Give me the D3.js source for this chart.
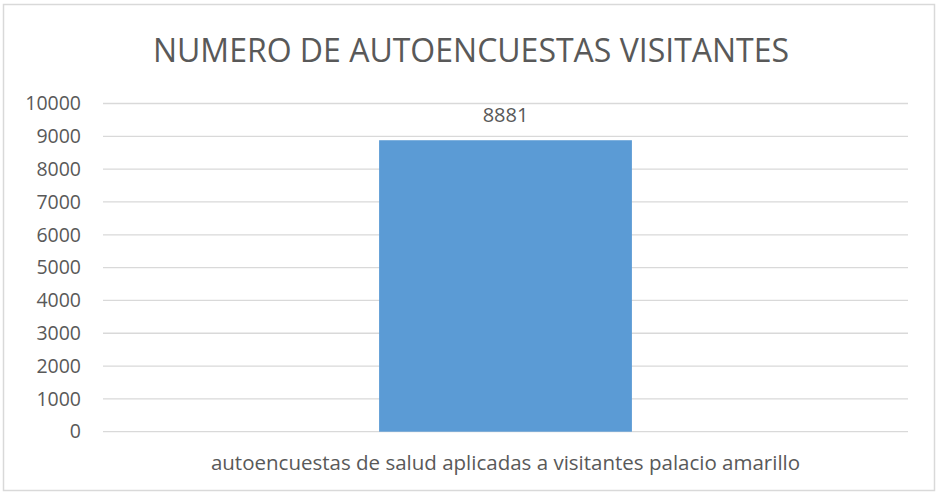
<!DOCTYPE html>
<html>
<head>
<meta charset="utf-8">
<script src="https://cdn.jsdelivr.net/npm/d3@7"></script>
<style>
  html, body { margin: 0; padding: 0; background: white; }
  svg { display: block; font-family: "Open Sans", "Liberation Sans", sans-serif; }
</style>
</head>
<body>
<svg class="chart" width="938" height="493"></svg>
<script>
const categories = ["autoencuestas de salud aplicadas a visitantes palacio amarillo"];
const values = [8881];
const yTicks = [0, 1000, 2000, 3000, 4000, 5000, 6000, 7000, 8000, 9000, 10000];
const title = "NUMERO DE AUTOENCUESTAS VISITANTES";

const textColor = "#595959";
const gridColor = "#d9d9d9";
const barColor = "#5b9bd5";

const svg = d3.select("svg.chart");

// outer frame
svg.append("rect")
  .attr("x", 3.5).attr("y", 4.5)
  .attr("width", 931).attr("height", 486)
  .attr("fill", "white")
  .attr("stroke", gridColor)
  .attr("stroke-width", 1.5);

const plot = { left: 103, right: 908, top: 103.5, bottom: 431.7 };

const x = d3.scaleBand()
  .domain(categories)
  .range([plot.left, plot.right])
  .paddingInner(0.522)
  .paddingOuter(0.522);

const y = d3.scaleLinear()
  .domain([0, 10000])
  .range([plot.bottom, plot.top]);

// gridlines
svg.append("g")
  .selectAll("line")
  .data(yTicks)
  .join("line")
  .attr("x1", plot.left)
  .attr("x2", plot.right)
  .attr("y1", (d) => y(d))
  .attr("y2", (d) => y(d))
  .attr("stroke", gridColor)
  .attr("stroke-width", 1.3);

// y axis labels
const yAxis = svg.append("g")
  .attr("transform", `translate(${plot.left - 22},0)`)
  .call(d3.axisLeft(y).tickValues(yTicks).tickSize(0).tickPadding(0).tickFormat(d3.format("d")));
yAxis.select(".domain").remove();
yAxis.selectAll("text")
  .attr("fill", textColor)
  .style("font-size", "19.5px")
  .style("font-family", "'Open Sans', 'Liberation Sans', sans-serif");

// bars
svg.append("g")
  .selectAll("rect")
  .data(values)
  .join("rect")
  .attr("x", (d, i) => x(categories[i]))
  .attr("y", (d) => y(d))
  .attr("width", x.bandwidth())
  .attr("height", (d) => y(0) - y(d))
  .attr("fill", barColor);

// data labels
svg.append("g")
  .selectAll("text")
  .data(values)
  .join("text")
  .attr("x", (d, i) => x(categories[i]) + x.bandwidth() / 2)
  .attr("y", (d) => y(d) - 18)
  .attr("text-anchor", "middle")
  .attr("fill", textColor)
  .style("font-size", "20px")
  .text((d) => d);

// x axis labels
const xAxis = svg.append("g")
  .attr("transform", `translate(0,${plot.bottom + 24})`)
  .call(d3.axisBottom(x).tickSize(0).tickPadding(0));
xAxis.select(".domain").remove();
xAxis.selectAll("text")
  .attr("fill", textColor)
  .style("font-size", "20.5px")
  .style("font-family", "'Open Sans', 'Liberation Sans', sans-serif");

// title
svg.append("text")
  .attr("x", 471)
  .attr("y", 62)
  .attr("text-anchor", "middle")
  .attr("fill", textColor)
  .style("font-size", "32px")
  .text(title);
</script>
</body>
</html>
